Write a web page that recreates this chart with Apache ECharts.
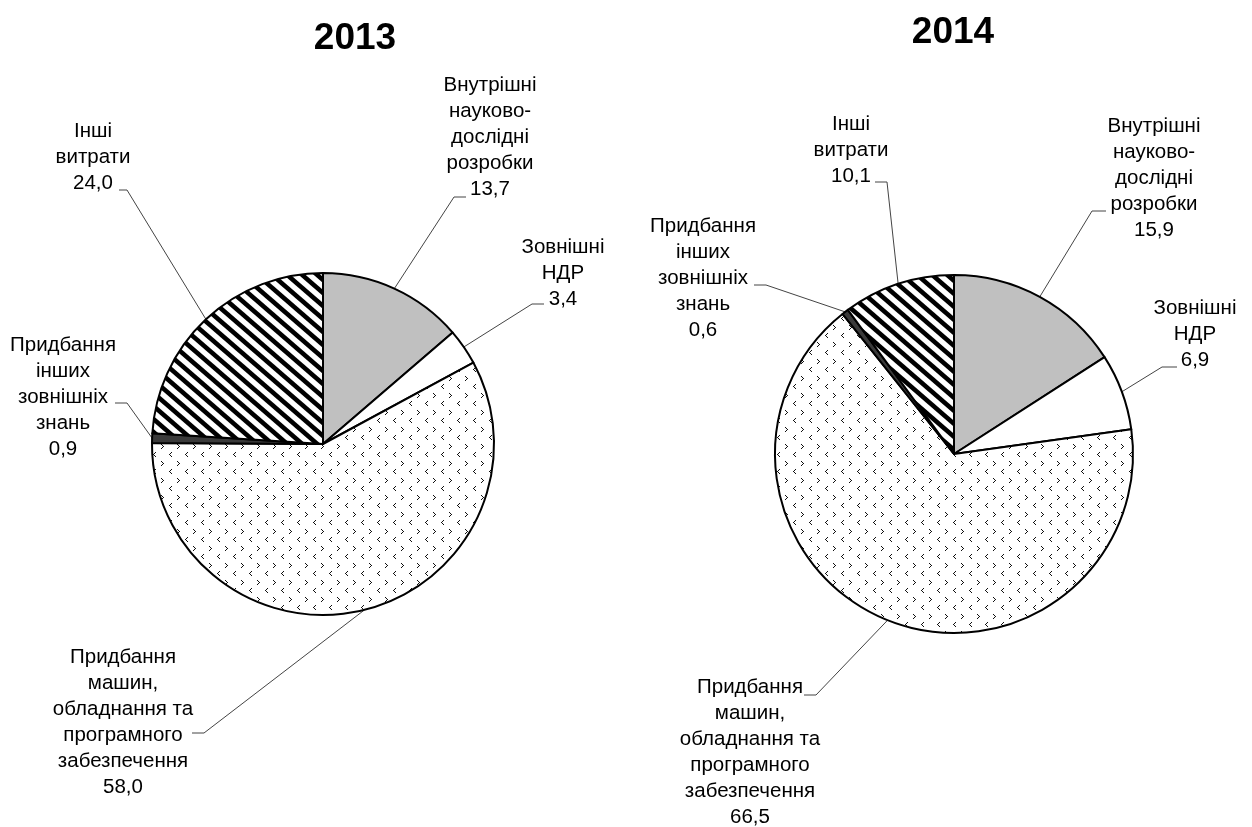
<!DOCTYPE html>
<html>
<head>
<meta charset="utf-8">
<script src="https://cdn.jsdelivr.net/npm/echarts@6/dist/echarts.min.js"></script>
<style>
html,body{margin:0;padding:0;background:#fff;}
#chart{width:1252px;height:827px;}
</style>
</head>
<body>
<div id="chart"></div>
<script>
// ---- data ----
const years = ['2013', '2014'];
const categories = [
  'Внутрішні\nнауково-\nдослідні\nрозробки',
  'Зовнішні\nНДР',
  'Придбання\nмашин,\nобладнання та\nпрограмного\nзабезпечення',
  'Придбання\nінших\nзовнішніх\nзнань',
  'Інші\nвитрати'
];
const values2013 = [13.7, 3.4, 58.0, 0.9, 24.0];
const values2014 = [15.9, 6.9, 66.5, 0.6, 10.1];

// ---- layout (label centre, knee point, end point) ----
const labelLayout2013 = [
  {c: [490, 137], knee: [454, 197], end: [466, 197]},
  {c: [563, 273], knee: [532, 304], end: [544, 304]},
  {c: [123, 722], knee: [204, 733], end: [192, 733]},
  {c: [63, 397],  knee: [127, 403], end: [115, 403]},
  {c: [93, 157],  knee: [127, 190], end: [119, 190]}
];
const labelLayout2014 = [
  {c: [1154, 178], knee: [1092, 211], end: [1106, 211]},
  {c: [1195, 334], knee: [1162, 367], end: [1177, 367]},
  {c: [750, 752],  knee: [816, 695],  end: [804, 695]},
  {c: [703, 278],  knee: [766, 285],  end: [754, 285]},
  {c: [851, 150],  knee: [887, 182],  end: [875, 182]}
];

// ---- patterns ----
function stripePattern() {
  const w = 15, h = 13;
  const cv = document.createElement('canvas');
  cv.width = w; cv.height = h;
  const ctx = cv.getContext('2d');
  ctx.fillStyle = '#fff';
  ctx.fillRect(0, 0, w, h);
  ctx.strokeStyle = '#000';
  ctx.lineWidth = 4.6;
  for (let i = -2; i <= 2; i++) {
    ctx.beginPath();
    ctx.moveTo(i * w - w, -h);
    ctx.lineTo(i * w + 2 * w, 2 * h);
    ctx.stroke();
  }
  return cv;
}
function dotPattern() {
  const w = 16, h = 17;
  const cv = document.createElement('canvas');
  cv.width = w; cv.height = h;
  const ctx = cv.getContext('2d');
  ctx.fillStyle = '#fff';
  ctx.fillRect(0, 0, w, h);
  ctx.fillStyle = '#111';
  const gt = [[0,0],[1,1],[2,2],[1,3],[0,4]];
  const lt = [[2,0],[1,1],[0,2],[1,3],[2,4]];
  gt.forEach(p => ctx.fillRect(1 + p[0], 2 + p[1], 1, 1));
  lt.forEach(p => ctx.fillRect(9 + p[0], 10 + p[1], 1, 1));
  return cv;
}
const stripes = {image: stripePattern(), repeat: 'repeat'};
const dots = {image: dotPattern(), repeat: 'repeat'};
const sliceColors = ['#c0c0c0', '#ffffff', dots, '#3a3a3a', stripes];

function fmt(v) { return v.toFixed(1).replace('.', ','); }

function makeSeries(values, center, radius, layout) {
  return {
    type: 'pie',
    center: center,
    radius: radius,
    startAngle: 90,
    clockwise: true,
    avoidLabelOverlap: false,
    silent: true,
    animation: false,
    data: categories.map((n, i) => ({
      name: n,
      value: values[i],
      itemStyle: {color: sliceColors[i]}
    })),
    itemStyle: {borderColor: '#000', borderWidth: 2},
    label: {
      show: true,
      position: 'outside',
      color: '#000',
      fontFamily: '"Liberation Sans", Arial, sans-serif',
      fontSize: 20.5,
      lineHeight: 26,
      align: 'center',
      formatter: p => p.name + '\n' + fmt(p.value)
    },
    labelLine: {
      show: true,
      length: 20,
      length2: 10,
      smooth: false,
      lineStyle: {color: '#444', width: 1}
    },
    labelLayout: function (params) {
      const L = layout[params.dataIndex];
      const p0 = params.labelLinePoints ? params.labelLinePoints[0] : L.knee;
      return {
        x: L.c[0],
        y: L.c[1],
        align: 'center',
        verticalAlign: 'middle',
        labelLinePoints: [p0, L.knee, L.end]
      };
    },
    emphasis: {disabled: true}
  };
}

const chart = echarts.init(document.getElementById('chart'), null, {renderer: 'canvas'});
chart.setOption({
  backgroundColor: '#fff',
  animation: false,
  title: [
    {text: years[0], left: 350, top: 15, textAlign: 'center',
     textStyle: {fontFamily: '"Liberation Sans", Arial, sans-serif', fontSize: 37, fontWeight: 'bold', color: '#000'}},
    {text: years[1], left: 948, top: 9, textAlign: 'center',
     textStyle: {fontFamily: '"Liberation Sans", Arial, sans-serif', fontSize: 37, fontWeight: 'bold', color: '#000'}}
  ],
  series: [
    makeSeries(values2013, [323, 444], 171, labelLayout2013),
    makeSeries(values2014, [954, 454], 179, labelLayout2014)
  ]
});
</script>
</body>
</html>
